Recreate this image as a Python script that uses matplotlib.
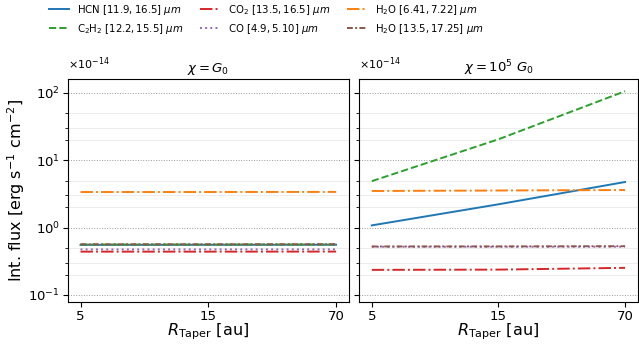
import matplotlib.pyplot as plt
import numpy as np
from matplotlib.ticker import LogLocator, NullFormatter

# R_taper values (plotted at evenly spaced positions)
r_taper = ["5", "15", "70"]

# integrated fluxes in units of 1e-14 erg s^-1 cm^-2, chi = G0
hcn_g0 = [0.555, 0.556, 0.557]
c2h2_g0 = [0.560, 0.560, 0.561]
co2_g0 = [0.440, 0.440, 0.441]
co_g0 = [0.475, 0.475, 0.476]
h2o_short_g0 = [3.38, 3.38, 3.39]
h2o_long_g0 = [0.566, 0.566, 0.567]

# chi = 1e5 G0
hcn_hi = [1.08, 2.22, 4.76]
c2h2_hi = [4.9, 20.5, 106.0]
co2_hi = [0.236, 0.238, 0.253]
co_hi = [0.520, 0.520, 0.521]
h2o_short_hi = [3.50, 3.56, 3.62]
h2o_long_hi = [0.525, 0.526, 0.530]

labels = [
    r"HCN $[11.9, 16.5]$ $\mu m$",
    r"C$_2$H$_2$ $[12.2, 15.5]$ $\mu m$",
    r"CO$_2$ $[13.5, 16.5]$ $\mu m$",
    r"CO $[4.9, 5.10]$ $\mu m$",
    r"H$_2$O $[6.41, 7.22]$ $\mu m$",
    r"H$_2$O $[13.5, 17.25]$ $\mu m$",
]
colors = ["C0", "C2", "C3", "C4", "C1", "C5"]
styles = ["-", "--", "-.", ":", "-.", (0, (3, 1.2, 1, 1.2))]

panels = [
    (r"$\chi = G_0$", [hcn_g0, c2h2_g0, co2_g0, co_g0, h2o_short_g0, h2o_long_g0]),
    (r"$\chi = 10^5\ G_0$", [hcn_hi, c2h2_hi, co2_hi, co_hi, h2o_short_hi, h2o_long_hi]),
]

fig = plt.figure(figsize=(6.39, 3.45), dpi=100)
ax1 = fig.add_axes([0.106, 0.125, 0.440, 0.646])
ax2 = fig.add_axes([0.562, 0.125, 0.436, 0.646], sharey=ax1)

x = np.arange(len(r_taper))
for ax, (title, series) in zip([ax1, ax2], panels):
    for vals, lab, c, ls in zip(series, labels, colors, styles):
        ax.plot(x, vals, color=c, ls=ls, lw=1.4, label=lab)
    ax.set_yscale("log")
    ax.set_title(title, fontsize=9.5, pad=5)
    ax.set_xticks(x)
    ax.set_xticklabels(r_taper)
    ax.set_xlim(-0.1, 2.1)
    ax.set_xlabel(r"$R_{\rm Taper}$ [au]", fontsize=11.5, labelpad=-0.5)
    ax.yaxis.set_minor_locator(LogLocator(base=10, subs=(2, 3, 5)))
    ax.yaxis.set_minor_formatter(NullFormatter())
    ax.grid(which="major", axis="y", ls=":", color="0.6", lw=0.7)
    ax.grid(which="minor", axis="y", ls="-", color="0.93", lw=0.7)
    ax.tick_params(labelsize=9.5, pad=2)
    ax.text(0, 1.03, r"$\times 10^{-14}$", transform=ax.transAxes, fontsize=8,
            va="bottom", ha="left")

ax1.set_ylim(0.079, 161)
ax1.set_ylabel(r"Int. flux [erg s$^{-1}$ cm$^{-2}$]", fontsize=11.5, labelpad=1)
ax2.tick_params(labelleft=False)

handles, labs = ax1.get_legend_handles_labels()
fig.legend(handles, labs, loc="upper center", bbox_to_anchor=(0.417, 1.018), ncol=3,
           frameon=False, fontsize=7.3, handlelength=2.0, columnspacing=1.6,
           labelspacing=0.5)

fig.savefig("out.png", dpi=100)
